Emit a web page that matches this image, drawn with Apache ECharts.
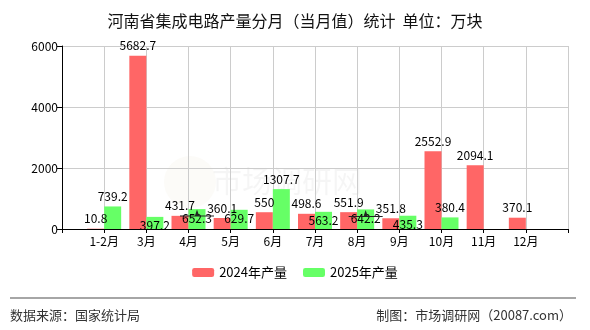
<!DOCTYPE html>
<html>
<head>
<meta charset="utf-8">
<script src="https://cdn.jsdelivr.net/npm/echarts@6/dist/echarts.min.js"></script>
<style>
html,body{margin:0;padding:0;background:#fff;}
#c{width:590px;height:330px;}
</style>
</head>
<body>
<div id="c"></div>
<script>
const categories = ['', '1-2月', '3月', '4月', '5月', '6月', '7月', '8月', '9月', '10月', '11月', '12月', ''];
const values2024 = [null, 10.8, 5682.7, 431.7, 360.1, 550, 498.6, 551.9, 351.8, 2552.9, 2094.1, 370.1, null];
const values2025 = [null, 739.2, 397.2, 652.3, 629.7, 1307.7, 563.2, 642.2, 435.3, 380.4, null, null, null];
const yTicks = [0, 2000, 4000, 6000];
const seriesNames = ['2024年产量', '2025年产量'];
const markerMonths = ['4月', '8月'];

// green labels drawn inside the bar top in the reference
const insideLabelMonths = ['3月', '4月', '5月', '7月', '8月', '9月'];

const font = 'SimSun, "Noto Sans CJK SC", sans-serif';
const chart = echarts.init(document.getElementById('c'), null, {renderer: 'canvas'});

const greenData = values2025.map((v, i) => {
  if (v == null) return v;
  if (insideLabelMonths.indexOf(categories[i]) >= 0) {
    return {value: v, label: {position: 'insideTop', distance: 3}};
  }
  return v;
});

const markerPath = 'path://M0,7 L34,7 L34,8 L0,8 Z M15,7 L17,1 L19,7 Z';

chart.setOption({
  animation: false,
  backgroundColor: '#fff',
  title: {
    text: '河南省集成电路产量分月（当月值）统计  单位：万块',
    left: 'center',
    top: 8,
    textStyle: {fontSize: 16, fontWeight: 'normal', color: '#111', fontFamily: '"Noto Sans CJK SC", sans-serif'}
  },
  legend: {
    data: seriesNames,
    bottom: 46,
    left: 'center',
    itemWidth: 22,
    itemHeight: 9,
    itemGap: 16,
    textStyle: {fontSize: 13, color: '#000', fontFamily: '"Noto Sans CJK SC", sans-serif'}
  },
  grid: {left: 62, right: 22, top: 46, bottom: 101, containLabel: false},
  xAxis: {
    type: 'category',
    data: categories,
    boundaryGap: false,
    axisLine: {lineStyle: {color: '#000', width: 1}},
    axisTick: {show: true, length: 4, lineStyle: {color: '#000'}},
    axisLabel: {color: '#000', fontSize: 12, margin: 6, interval: 0, fontFamily: font},
    splitLine: {show: true, lineStyle: {color: '#ccc', width: 1}}
  },
  yAxis: {
    type: 'value',
    min: yTicks[0],
    max: yTicks[yTicks.length - 1],
    interval: yTicks[1] - yTicks[0],
    axisLine: {show: true, lineStyle: {color: '#000', width: 1}},
    axisTick: {show: true, length: 5, lineStyle: {color: '#000'}},
    axisLabel: {color: '#000', fontSize: 12, margin: 4, fontFamily: font, formatter: v => String(v)},
    splitLine: {show: true, lineStyle: {color: '#ccc', width: 1}}
  },
  graphic: [
    {type: 'text', left: 212, top: 166, silent: true,
     style: {text: '市场调研网', fontSize: 30, fill: 'rgba(0,0,0,0.04)', fontFamily: '"Noto Sans CJK SC", sans-serif'}},
    {type: 'circle', shape: {cx: 190, cy: 182, r: 26}, silent: true,
     style: {fill: 'rgba(200,170,120,0.05)'}},
    {type: 'line', shape: {x1: 10, y1: 298, x2: 576, y2: 298}, style: {stroke: '#888', lineWidth: 1.5}},
    {type: 'text', left: 10, top: 309,
     style: {text: '数据来源：国家统计局', fontSize: 13, fill: '#333', fontFamily: '"Noto Sans CJK SC", sans-serif'}},
    {type: 'text', right: 18, top: 309,
     style: {text: '制图：市场调研网（20087.com）', fontSize: 13, fill: '#333', fontFamily: '"Noto Sans CJK SC", sans-serif'}}
  ],
  series: [
    {
      name: seriesNames[0],
      type: 'bar',
      data: values2024,
      barWidth: 17,
      barGap: '0%',
      itemStyle: {color: '#FF6666'},
      label: {show: true, position: 'top', distance: 4, color: '#000', fontSize: 12, fontFamily: font}
    },
    {
      name: seriesNames[1],
      type: 'bar',
      data: greenData,
      barWidth: 17,
      barGap: '0%',
      itemStyle: {color: '#66FF66'},
      label: {show: true, position: 'top', distance: 4, color: '#000', fontSize: 12, fontFamily: font},
      markPoint: {
        silent: true,
        symbol: markerPath,
        symbolSize: [34, 7],
        symbolKeepAspect: false,
        symbolOffset: [0, 4],
        itemStyle: {color: '#222'},
        label: {show: false},
        data: markerMonths.map(m => ({coord: [m, values2025[categories.indexOf(m)]]}))
      }
    }
  ]
});
</script>
</body>
</html>
